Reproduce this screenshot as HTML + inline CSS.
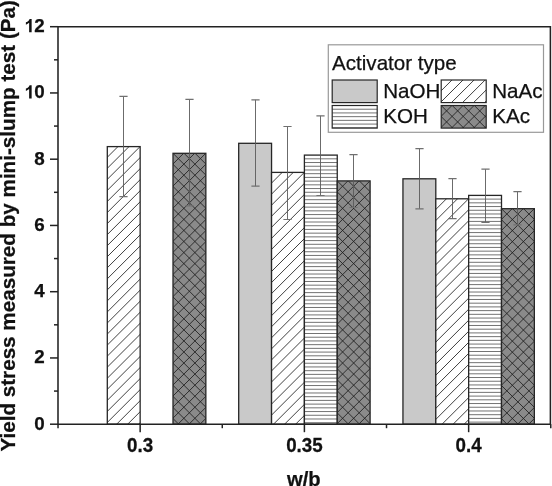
<!DOCTYPE html>
<html><head><meta charset="utf-8"><style>
html,body{margin:0;padding:0;background:#fff;}
body{width:552px;height:486px;overflow:hidden;}
svg{display:block;will-change:transform;}
text{font-family:"Liberation Sans",sans-serif;stroke:#111;stroke-width:0.25px;}
</style></head><body>
<svg width="552" height="486" viewBox="0 0 552 486">
<clipPath id="c1"><rect x="107.30" y="146.60" width="32.85" height="277.60"/></clipPath>
<rect x="107.30" y="146.60" width="32.85" height="277.60" fill="#fff"/>
<path clip-path="url(#c1)" d="M106.30,158.25L118.95,145.60M106.30,169.30L130.00,145.60M106.30,180.35L141.05,145.60M106.30,191.40L152.10,145.60M106.30,202.45L163.15,145.60M106.30,213.50L174.20,145.60M106.30,224.55L185.25,145.60M106.30,235.60L196.30,145.60M106.30,246.65L207.35,145.60M106.30,257.70L218.40,145.60M106.30,268.75L229.45,145.60M106.30,279.80L240.50,145.60M106.30,290.85L251.55,145.60M106.30,301.90L262.60,145.60M106.30,312.95L273.65,145.60M106.30,324.00L284.70,145.60M106.30,335.05L295.75,145.60M106.30,346.10L306.80,145.60M106.30,357.15L317.85,145.60M106.30,368.20L328.90,145.60M106.30,379.25L339.95,145.60M106.30,390.30L351.00,145.60M106.30,401.35L362.05,145.60M106.30,412.40L373.10,145.60M106.30,423.45L384.15,145.60M106.30,434.50L395.20,145.60M106.30,445.55L406.25,145.60M106.30,456.60L417.30,145.60M106.30,467.65L428.35,145.60" stroke="#1e1e1e" stroke-width="0.85" fill="none"/>
<rect x="107.30" y="146.60" width="32.85" height="277.60" fill="none" stroke="#262626" stroke-width="1.3"/>
<clipPath id="c2"><rect x="173.00" y="153.30" width="32.85" height="270.90"/></clipPath>
<rect x="173.00" y="153.30" width="32.85" height="270.90" fill="#8a8a8a"/>
<path clip-path="url(#c2)" d="M172.00,164.95L184.65,152.30M172.00,176.00L195.70,152.30M172.00,187.05L206.75,152.30M172.00,198.10L217.80,152.30M172.00,209.15L228.85,152.30M172.00,220.20L239.90,152.30M172.00,231.25L250.95,152.30M172.00,242.30L262.00,152.30M172.00,253.35L273.05,152.30M172.00,264.40L284.10,152.30M172.00,275.45L295.15,152.30M172.00,286.50L306.20,152.30M172.00,297.55L317.25,152.30M172.00,308.60L328.30,152.30M172.00,319.65L339.35,152.30M172.00,330.70L350.40,152.30M172.00,341.75L361.45,152.30M172.00,352.80L372.50,152.30M172.00,363.85L383.55,152.30M172.00,374.90L394.60,152.30M172.00,385.95L405.65,152.30M172.00,397.00L416.70,152.30M172.00,408.05L427.75,152.30M172.00,419.10L438.80,152.30M172.00,430.15L449.85,152.30M172.00,441.20L460.90,152.30M172.00,452.25L471.95,152.30M172.00,463.30L483.00,152.30M172.00,439.60L206.85,474.45M172.00,428.55L206.85,463.40M172.00,417.50L206.85,452.35M172.00,406.45L206.85,441.30M172.00,395.40L206.85,430.25M172.00,384.35L206.85,419.20M172.00,373.30L206.85,408.15M172.00,362.25L206.85,397.10M172.00,351.20L206.85,386.05M172.00,340.15L206.85,375.00M172.00,329.10L206.85,363.95M172.00,318.05L206.85,352.90M172.00,307.00L206.85,341.85M172.00,295.95L206.85,330.80M172.00,284.90L206.85,319.75M172.00,273.85L206.85,308.70M172.00,262.80L206.85,297.65M172.00,251.75L206.85,286.60M172.00,240.70L206.85,275.55M172.00,229.65L206.85,264.50M172.00,218.60L206.85,253.45M172.00,207.55L206.85,242.40M172.00,196.50L206.85,231.35M172.00,185.45L206.85,220.30M172.00,174.40L206.85,209.25M172.00,163.35L206.85,198.20M172.00,152.30L206.85,187.15M172.00,141.25L206.85,176.10M172.00,130.20L206.85,165.05M172.00,119.15L206.85,154.00" stroke="#1e1e1e" stroke-width="0.85" fill="none"/>
<rect x="173.00" y="153.30" width="32.85" height="270.90" fill="none" stroke="#262626" stroke-width="1.3"/>
<clipPath id="c3"><rect x="238.70" y="143.30" width="32.85" height="280.90"/></clipPath>
<rect x="238.70" y="143.30" width="32.85" height="280.90" fill="#c9c9c9"/>
<rect x="238.70" y="143.30" width="32.85" height="280.90" fill="none" stroke="#262626" stroke-width="1.3"/>
<clipPath id="c4"><rect x="271.55" y="172.40" width="32.85" height="251.80"/></clipPath>
<rect x="271.55" y="172.40" width="32.85" height="251.80" fill="#fff"/>
<path clip-path="url(#c4)" d="M270.55,184.05L283.20,171.40M270.55,195.10L294.25,171.40M270.55,206.15L305.30,171.40M270.55,217.20L316.35,171.40M270.55,228.25L327.40,171.40M270.55,239.30L338.45,171.40M270.55,250.35L349.50,171.40M270.55,261.40L360.55,171.40M270.55,272.45L371.60,171.40M270.55,283.50L382.65,171.40M270.55,294.55L393.70,171.40M270.55,305.60L404.75,171.40M270.55,316.65L415.80,171.40M270.55,327.70L426.85,171.40M270.55,338.75L437.90,171.40M270.55,349.80L448.95,171.40M270.55,360.85L460.00,171.40M270.55,371.90L471.05,171.40M270.55,382.95L482.10,171.40M270.55,394.00L493.15,171.40M270.55,405.05L504.20,171.40M270.55,416.10L515.25,171.40M270.55,427.15L526.30,171.40M270.55,438.20L537.35,171.40M270.55,449.25L548.40,171.40M270.55,460.30L559.45,171.40" stroke="#1e1e1e" stroke-width="0.85" fill="none"/>
<rect x="271.55" y="172.40" width="32.85" height="251.80" fill="none" stroke="#262626" stroke-width="1.3"/>
<clipPath id="c5"><rect x="304.40" y="155.10" width="32.85" height="269.10"/></clipPath>
<rect x="304.40" y="155.10" width="32.85" height="269.10" fill="#fff"/>
<path clip-path="url(#c5)" d="M304.40,158.82H337.25M304.40,162.53H337.25M304.40,166.25H337.25M304.40,169.97H337.25M304.40,173.68H337.25M304.40,177.40H337.25M304.40,181.12H337.25M304.40,184.83H337.25M304.40,188.55H337.25M304.40,192.27H337.25M304.40,195.98H337.25M304.40,199.70H337.25M304.40,203.42H337.25M304.40,207.13H337.25M304.40,210.85H337.25M304.40,214.57H337.25M304.40,218.28H337.25M304.40,222.00H337.25M304.40,225.72H337.25M304.40,229.43H337.25M304.40,233.15H337.25M304.40,236.87H337.25M304.40,240.58H337.25M304.40,244.30H337.25M304.40,248.02H337.25M304.40,251.73H337.25M304.40,255.45H337.25M304.40,259.17H337.25M304.40,262.88H337.25M304.40,266.60H337.25M304.40,270.32H337.25M304.40,274.03H337.25M304.40,277.75H337.25M304.40,281.47H337.25M304.40,285.18H337.25M304.40,288.90H337.25M304.40,292.62H337.25M304.40,296.33H337.25M304.40,300.05H337.25M304.40,303.77H337.25M304.40,307.48H337.25M304.40,311.20H337.25M304.40,314.92H337.25M304.40,318.63H337.25M304.40,322.35H337.25M304.40,326.07H337.25M304.40,329.78H337.25M304.40,333.50H337.25M304.40,337.22H337.25M304.40,340.94H337.25M304.40,344.65H337.25M304.40,348.37H337.25M304.40,352.09H337.25M304.40,355.80H337.25M304.40,359.52H337.25M304.40,363.24H337.25M304.40,366.95H337.25M304.40,370.67H337.25M304.40,374.39H337.25M304.40,378.10H337.25M304.40,381.82H337.25M304.40,385.54H337.25M304.40,389.25H337.25M304.40,392.97H337.25M304.40,396.69H337.25M304.40,400.40H337.25M304.40,404.12H337.25M304.40,407.84H337.25M304.40,411.55H337.25M304.40,415.27H337.25M304.40,418.99H337.25M304.40,422.70H337.25" stroke="#5a5a5a" stroke-width="0.85" fill="none"/>
<rect x="304.40" y="155.10" width="32.85" height="269.10" fill="none" stroke="#262626" stroke-width="1.3"/>
<clipPath id="c6"><rect x="337.25" y="180.90" width="32.85" height="243.30"/></clipPath>
<rect x="337.25" y="180.90" width="32.85" height="243.30" fill="#8a8a8a"/>
<path clip-path="url(#c6)" d="M336.25,192.55L348.90,179.90M336.25,203.60L359.95,179.90M336.25,214.65L371.00,179.90M336.25,225.70L382.05,179.90M336.25,236.75L393.10,179.90M336.25,247.80L404.15,179.90M336.25,258.85L415.20,179.90M336.25,269.90L426.25,179.90M336.25,280.95L437.30,179.90M336.25,292.00L448.35,179.90M336.25,303.05L459.40,179.90M336.25,314.10L470.45,179.90M336.25,325.15L481.50,179.90M336.25,336.20L492.55,179.90M336.25,347.25L503.60,179.90M336.25,358.30L514.65,179.90M336.25,369.35L525.70,179.90M336.25,380.40L536.75,179.90M336.25,391.45L547.80,179.90M336.25,402.50L558.85,179.90M336.25,413.55L569.90,179.90M336.25,424.60L580.95,179.90M336.25,435.65L592.00,179.90M336.25,446.70L603.05,179.90M336.25,457.75L614.10,179.90M336.25,468.80L625.15,179.90M336.25,445.10L371.10,479.95M336.25,434.05L371.10,468.90M336.25,423.00L371.10,457.85M336.25,411.95L371.10,446.80M336.25,400.90L371.10,435.75M336.25,389.85L371.10,424.70M336.25,378.80L371.10,413.65M336.25,367.75L371.10,402.60M336.25,356.70L371.10,391.55M336.25,345.65L371.10,380.50M336.25,334.60L371.10,369.45M336.25,323.55L371.10,358.40M336.25,312.50L371.10,347.35M336.25,301.45L371.10,336.30M336.25,290.40L371.10,325.25M336.25,279.35L371.10,314.20M336.25,268.30L371.10,303.15M336.25,257.25L371.10,292.10M336.25,246.20L371.10,281.05M336.25,235.15L371.10,270.00M336.25,224.10L371.10,258.95M336.25,213.05L371.10,247.90M336.25,202.00L371.10,236.85M336.25,190.95L371.10,225.80M336.25,179.90L371.10,214.75M336.25,168.85L371.10,203.70M336.25,157.80L371.10,192.65M336.25,146.75L371.10,181.60" stroke="#1e1e1e" stroke-width="0.85" fill="none"/>
<rect x="337.25" y="180.90" width="32.85" height="243.30" fill="none" stroke="#262626" stroke-width="1.3"/>
<clipPath id="c7"><rect x="402.95" y="178.80" width="32.85" height="245.40"/></clipPath>
<rect x="402.95" y="178.80" width="32.85" height="245.40" fill="#c9c9c9"/>
<rect x="402.95" y="178.80" width="32.85" height="245.40" fill="none" stroke="#262626" stroke-width="1.3"/>
<clipPath id="c8"><rect x="435.80" y="198.80" width="32.85" height="225.40"/></clipPath>
<rect x="435.80" y="198.80" width="32.85" height="225.40" fill="#fff"/>
<path clip-path="url(#c8)" d="M434.80,210.45L447.45,197.80M434.80,221.50L458.50,197.80M434.80,232.55L469.55,197.80M434.80,243.60L480.60,197.80M434.80,254.65L491.65,197.80M434.80,265.70L502.70,197.80M434.80,276.75L513.75,197.80M434.80,287.80L524.80,197.80M434.80,298.85L535.85,197.80M434.80,309.90L546.90,197.80M434.80,320.95L557.95,197.80M434.80,332.00L569.00,197.80M434.80,343.05L580.05,197.80M434.80,354.10L591.10,197.80M434.80,365.15L602.15,197.80M434.80,376.20L613.20,197.80M434.80,387.25L624.25,197.80M434.80,398.30L635.30,197.80M434.80,409.35L646.35,197.80M434.80,420.40L657.40,197.80M434.80,431.45L668.45,197.80M434.80,442.50L679.50,197.80M434.80,453.55L690.55,197.80M434.80,464.60L701.60,197.80" stroke="#1e1e1e" stroke-width="0.85" fill="none"/>
<rect x="435.80" y="198.80" width="32.85" height="225.40" fill="none" stroke="#262626" stroke-width="1.3"/>
<clipPath id="c9"><rect x="468.65" y="195.40" width="32.85" height="228.80"/></clipPath>
<rect x="468.65" y="195.40" width="32.85" height="228.80" fill="#fff"/>
<path clip-path="url(#c9)" d="M468.65,199.12H501.50M468.65,202.83H501.50M468.65,206.55H501.50M468.65,210.27H501.50M468.65,213.98H501.50M468.65,217.70H501.50M468.65,221.42H501.50M468.65,225.13H501.50M468.65,228.85H501.50M468.65,232.57H501.50M468.65,236.28H501.50M468.65,240.00H501.50M468.65,243.72H501.50M468.65,247.43H501.50M468.65,251.15H501.50M468.65,254.87H501.50M468.65,258.58H501.50M468.65,262.30H501.50M468.65,266.02H501.50M468.65,269.73H501.50M468.65,273.45H501.50M468.65,277.17H501.50M468.65,280.88H501.50M468.65,284.60H501.50M468.65,288.32H501.50M468.65,292.03H501.50M468.65,295.75H501.50M468.65,299.47H501.50M468.65,303.18H501.50M468.65,306.90H501.50M468.65,310.62H501.50M468.65,314.33H501.50M468.65,318.05H501.50M468.65,321.77H501.50M468.65,325.48H501.50M468.65,329.20H501.50M468.65,332.92H501.50M468.65,336.63H501.50M468.65,340.35H501.50M468.65,344.07H501.50M468.65,347.78H501.50M468.65,351.50H501.50M468.65,355.22H501.50M468.65,358.93H501.50M468.65,362.65H501.50M468.65,366.37H501.50M468.65,370.08H501.50M468.65,373.80H501.50M468.65,377.52H501.50M468.65,381.24H501.50M468.65,384.95H501.50M468.65,388.67H501.50M468.65,392.39H501.50M468.65,396.10H501.50M468.65,399.82H501.50M468.65,403.54H501.50M468.65,407.25H501.50M468.65,410.97H501.50M468.65,414.69H501.50M468.65,418.40H501.50M468.65,422.12H501.50" stroke="#5a5a5a" stroke-width="0.85" fill="none"/>
<rect x="468.65" y="195.40" width="32.85" height="228.80" fill="none" stroke="#262626" stroke-width="1.3"/>
<clipPath id="c10"><rect x="501.50" y="208.70" width="32.85" height="215.50"/></clipPath>
<rect x="501.50" y="208.70" width="32.85" height="215.50" fill="#8a8a8a"/>
<path clip-path="url(#c10)" d="M500.50,220.35L513.15,207.70M500.50,231.40L524.20,207.70M500.50,242.45L535.25,207.70M500.50,253.50L546.30,207.70M500.50,264.55L557.35,207.70M500.50,275.60L568.40,207.70M500.50,286.65L579.45,207.70M500.50,297.70L590.50,207.70M500.50,308.75L601.55,207.70M500.50,319.80L612.60,207.70M500.50,330.85L623.65,207.70M500.50,341.90L634.70,207.70M500.50,352.95L645.75,207.70M500.50,364.00L656.80,207.70M500.50,375.05L667.85,207.70M500.50,386.10L678.90,207.70M500.50,397.15L689.95,207.70M500.50,408.20L701.00,207.70M500.50,419.25L712.05,207.70M500.50,430.30L723.10,207.70M500.50,441.35L734.15,207.70M500.50,452.40L745.20,207.70M500.50,463.45L756.25,207.70M500.50,439.75L535.35,474.60M500.50,428.70L535.35,463.55M500.50,417.65L535.35,452.50M500.50,406.60L535.35,441.45M500.50,395.55L535.35,430.40M500.50,384.50L535.35,419.35M500.50,373.45L535.35,408.30M500.50,362.40L535.35,397.25M500.50,351.35L535.35,386.20M500.50,340.30L535.35,375.15M500.50,329.25L535.35,364.10M500.50,318.20L535.35,353.05M500.50,307.15L535.35,342.00M500.50,296.10L535.35,330.95M500.50,285.05L535.35,319.90M500.50,274.00L535.35,308.85M500.50,262.95L535.35,297.80M500.50,251.90L535.35,286.75M500.50,240.85L535.35,275.70M500.50,229.80L535.35,264.65M500.50,218.75L535.35,253.60M500.50,207.70L535.35,242.55M500.50,196.65L535.35,231.50M500.50,185.60L535.35,220.45M500.50,174.55L535.35,209.40" stroke="#1e1e1e" stroke-width="0.85" fill="none"/>
<rect x="501.50" y="208.70" width="32.85" height="215.50" fill="none" stroke="#262626" stroke-width="1.3"/>
<path d="M123.50,96.40 V196.70" stroke="#5a5a5a" stroke-width="0.9" fill="none"/><path d="M119.40,96.40 H127.60 M119.40,196.70 H127.60" stroke="#707070" stroke-width="1.2" fill="none"/>
<path d="M189.50,99.30 V205.90" stroke="#5a5a5a" stroke-width="0.9" fill="none"/><path d="M185.40,99.30 H193.60 M185.40,205.90 H193.60" stroke="#707070" stroke-width="1.2" fill="none"/>
<path d="M255.50,99.80 V186.20" stroke="#5a5a5a" stroke-width="0.9" fill="none"/><path d="M251.40,99.80 H259.60 M251.40,186.20 H259.60" stroke="#707070" stroke-width="1.2" fill="none"/>
<path d="M287.50,126.50 V219.50" stroke="#5a5a5a" stroke-width="0.9" fill="none"/><path d="M283.40,126.50 H291.60 M283.40,219.50 H291.60" stroke="#707070" stroke-width="1.2" fill="none"/>
<path d="M320.50,115.80 V195.50" stroke="#5a5a5a" stroke-width="0.9" fill="none"/><path d="M316.40,115.80 H324.60 M316.40,195.50 H324.60" stroke="#707070" stroke-width="1.2" fill="none"/>
<path d="M353.50,154.70 V207.50" stroke="#5a5a5a" stroke-width="0.9" fill="none"/><path d="M349.40,154.70 H357.60 M349.40,207.50 H357.60" stroke="#707070" stroke-width="1.2" fill="none"/>
<path d="M419.50,148.70 V208.80" stroke="#5a5a5a" stroke-width="0.9" fill="none"/><path d="M415.40,148.70 H423.60 M415.40,208.80 H423.60" stroke="#707070" stroke-width="1.2" fill="none"/>
<path d="M452.50,178.60 V218.60" stroke="#5a5a5a" stroke-width="0.9" fill="none"/><path d="M448.40,178.60 H456.60 M448.40,218.60 H456.60" stroke="#707070" stroke-width="1.2" fill="none"/>
<path d="M485.50,169.20 V222.30" stroke="#5a5a5a" stroke-width="0.9" fill="none"/><path d="M481.40,169.20 H489.60 M481.40,222.30 H489.60" stroke="#707070" stroke-width="1.2" fill="none"/>
<path d="M517.50,191.70 V224.80" stroke="#5a5a5a" stroke-width="0.9" fill="none"/><path d="M513.40,191.70 H521.60 M513.40,224.80 H521.60" stroke="#707070" stroke-width="1.2" fill="none"/>
<path d="M58.0,26.69999999999999 H550.4 V424.2 H58.0 Z" fill="none" stroke="#222" stroke-width="1.55"/>
<path d="M50.0,424.20 H58.0" stroke="#222" stroke-width="1.5"/>
<path d="M54.0,391.07 H58.0" stroke="#222" stroke-width="1.5"/>
<path d="M50.0,357.95 H58.0" stroke="#222" stroke-width="1.5"/>
<path d="M54.0,324.82 H58.0" stroke="#222" stroke-width="1.5"/>
<path d="M50.0,291.70 H58.0" stroke="#222" stroke-width="1.5"/>
<path d="M54.0,258.57 H58.0" stroke="#222" stroke-width="1.5"/>
<path d="M50.0,225.45 H58.0" stroke="#222" stroke-width="1.5"/>
<path d="M54.0,192.32 H58.0" stroke="#222" stroke-width="1.5"/>
<path d="M50.0,159.20 H58.0" stroke="#222" stroke-width="1.5"/>
<path d="M54.0,126.07 H58.0" stroke="#222" stroke-width="1.5"/>
<path d="M50.0,92.95 H58.0" stroke="#222" stroke-width="1.5"/>
<path d="M54.0,59.82 H58.0" stroke="#222" stroke-width="1.5"/>
<path d="M50.0,26.70 H58.0" stroke="#222" stroke-width="1.5"/>
<path d="M58.03,424.2 V428.2" stroke="#222" stroke-width="1.5"/>
<path d="M140.15,424.2 V432.2" stroke="#222" stroke-width="1.5"/>
<path d="M222.28,424.2 V428.2" stroke="#222" stroke-width="1.5"/>
<path d="M304.40,424.2 V432.2" stroke="#222" stroke-width="1.5"/>
<path d="M386.52,424.2 V428.2" stroke="#222" stroke-width="1.5"/>
<path d="M468.65,424.2 V432.2" stroke="#222" stroke-width="1.5"/>
<path d="M550.77,424.2 V428.2" stroke="#222" stroke-width="1.5"/>
<text x="44.7" y="429.70" font-size="18.8" font-weight="bold" text-anchor="end" fill="#111">0</text>
<text x="44.7" y="363.45" font-size="18.8" font-weight="bold" text-anchor="end" fill="#111">2</text>
<text x="44.7" y="297.20" font-size="18.8" font-weight="bold" text-anchor="end" fill="#111">4</text>
<text x="44.7" y="230.95" font-size="18.8" font-weight="bold" text-anchor="end" fill="#111">6</text>
<text x="44.7" y="164.70" font-size="18.8" font-weight="bold" text-anchor="end" fill="#111">8</text>
<text x="44.7" y="98.45" font-size="18.8" font-weight="bold" text-anchor="end" fill="#111">0</text>
<path transform="translate(23.79,98.45) scale(0.00918,-0.00918)" d="M856,0H582V1032Q432,892 228,825V1073Q335,1108 461,1206Q587,1305 634,1447H856Z" fill="#111"/>
<text x="44.7" y="32.20" font-size="18.8" font-weight="bold" text-anchor="end" fill="#111">2</text>
<path transform="translate(23.79,32.20) scale(0.00918,-0.00918)" d="M856,0H582V1032Q432,892 228,825V1073Q335,1108 461,1206Q587,1305 634,1447H856Z" fill="#111"/>
<text transform="translate(140.15,452.4) scale(1,1.08)" font-size="18.8" font-weight="bold" text-anchor="middle" fill="#111">0.3</text>
<text transform="translate(304.40,452.4) scale(1,1.08)" font-size="18.8" font-weight="bold" text-anchor="middle" fill="#111">0.35</text>
<text transform="translate(468.65,452.4) scale(1,1.08)" font-size="18.8" font-weight="bold" text-anchor="middle" fill="#111">0.4</text>
<text x="303.8" y="486" font-size="20.2" font-weight="bold" text-anchor="middle" fill="#111">w/b</text>
<text transform="translate(15.1,451.6) rotate(-90)" x="0" y="0" font-size="20.66" font-weight="bold" fill="#111">Yield stress measured by mini-slump test (Pa)</text>
<rect x="328.3" y="44.8" width="215.2" height="87.5" fill="#fff" stroke="#999" stroke-width="1.2"/>
<text x="332" y="69.7" font-size="20.6" fill="#111">Activator type</text>
<clipPath id="c11"><rect x="332.20" y="80.00" width="45.00" height="22.60"/></clipPath>
<rect x="332.20" y="80.00" width="45.00" height="22.60" fill="#c9c9c9"/>
<rect x="332.20" y="80.00" width="45.00" height="22.60" fill="none" stroke="#262626" stroke-width="1.2"/>
<text x="383.2" y="97.7" font-size="20.6" fill="#111">NaOH</text>
<clipPath id="c12"><rect x="441.20" y="80.00" width="45.00" height="22.60"/></clipPath>
<rect x="441.20" y="80.00" width="45.00" height="22.60" fill="#fff"/>
<path clip-path="url(#c12)" d="M440.20,91.75L452.95,79.00M440.20,102.80L464.00,79.00M440.20,113.85L475.05,79.00M440.20,124.90L486.10,79.00M440.20,135.95L497.15,79.00M440.20,147.00L508.20,79.00M440.20,158.05L519.25,79.00" stroke="#1e1e1e" stroke-width="0.85" fill="none"/>
<rect x="441.20" y="80.00" width="45.00" height="22.60" fill="none" stroke="#262626" stroke-width="1.2"/>
<text x="492.2" y="97.7" font-size="20.6" fill="#111">NaAc</text>
<clipPath id="c13"><rect x="332.20" y="105.50" width="45.00" height="22.60"/></clipPath>
<rect x="332.20" y="105.50" width="45.00" height="22.60" fill="#fff"/>
<path clip-path="url(#c13)" d="M332.20,109.22H377.20M332.20,112.93H377.20M332.20,116.65H377.20M332.20,120.37H377.20M332.20,124.08H377.20M332.20,127.80H377.20" stroke="#5a5a5a" stroke-width="0.85" fill="none"/>
<rect x="332.20" y="105.50" width="45.00" height="22.60" fill="none" stroke="#262626" stroke-width="1.2"/>
<text x="383.2" y="123.2" font-size="20.6" fill="#111">KOH</text>
<clipPath id="c14"><rect x="441.20" y="105.50" width="45.00" height="22.60"/></clipPath>
<rect x="441.20" y="105.50" width="45.00" height="22.60" fill="#8a8a8a"/>
<path clip-path="url(#c14)" d="M440.20,117.25L452.95,104.50M440.20,128.30L464.00,104.50M440.20,139.35L475.05,104.50M440.20,150.40L486.10,104.50M440.20,161.45L497.15,104.50M440.20,172.50L508.20,104.50M440.20,183.55L519.25,104.50M440.20,148.70L487.20,195.70M440.20,137.65L487.20,184.65M440.20,126.60L487.20,173.60M440.20,115.55L487.20,162.55M440.20,104.50L487.20,151.50M440.20,93.45L487.20,140.45M440.20,82.40L487.20,129.40M440.20,71.35L487.20,118.35M440.20,60.30L487.20,107.30M440.20,49.25L487.20,96.25" stroke="#1e1e1e" stroke-width="0.85" fill="none"/>
<rect x="441.20" y="105.50" width="45.00" height="22.60" fill="none" stroke="#262626" stroke-width="1.2"/>
<text x="492.2" y="123.2" font-size="20.6" fill="#111">KAc</text>
</svg>
</body></html>
